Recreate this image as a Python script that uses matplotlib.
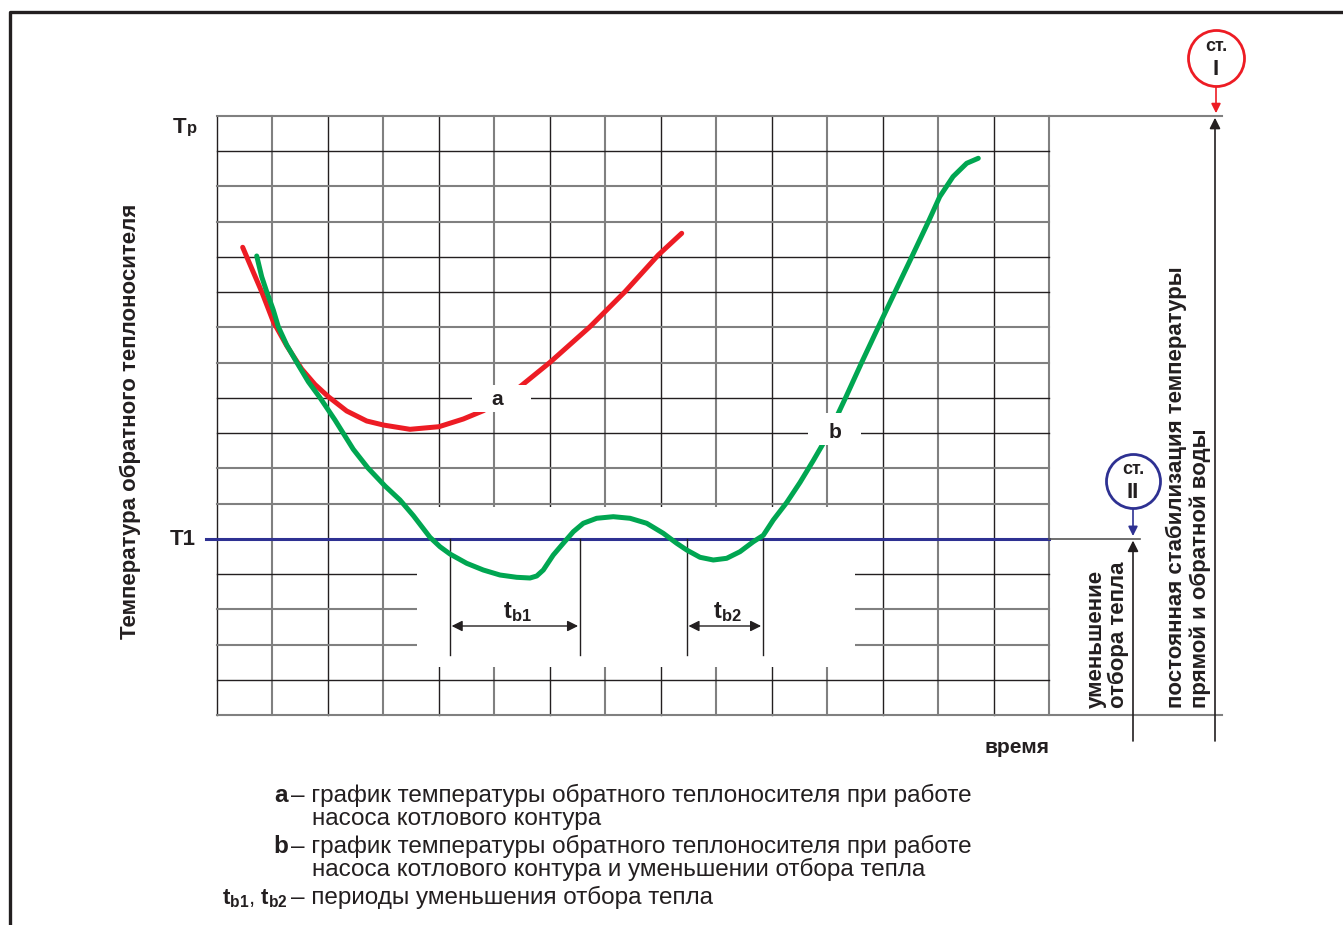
import matplotlib
matplotlib.use("Agg")
import matplotlib.pyplot as plt
from matplotlib.patches import Rectangle

plt.rcParams["font.family"] = ["Liberation Sans", "DejaVu Sans"]
plt.rcParams["mathtext.fontset"] = "custom"
plt.rcParams["mathtext.bf"] = "Liberation Sans:bold"
plt.rcParams["mathtext.rm"] = "Liberation Sans"

# grid: 15 columns (time), 17 rows (temperature), T1 at row 5, Tp at row 17
n_cols = 15
n_rows = 17
T1 = 5
Tp = 17

# curve a: return temperature, boiler pump only
x_a = [0.463, 0.564, 0.806, 1.015, 1.257, 1.527, 1.767, 2.007, 2.338, 2.699,
       2.998, 3.479, 4.002, 4.441, 4.801, 5.162, 5.463, 6.004, 6.725, 7.356,
       7.956, 8.378]
y_a = [13.274, 12.900, 12.013, 11.162, 10.480, 9.820, 9.380, 9.034, 8.628,
       8.344, 8.230, 8.108, 8.182, 8.401, 8.636, 8.988, 9.317, 10.010, 11.020,
       12.014, 13.055, 13.671]

# curve b: return temperature with reduced heat draw
x_b = [0.716, 0.806, 0.896, 1.015, 1.105, 1.257, 1.437, 1.646, 1.857, 2.127,
       2.457, 2.722, 3.029, 3.299, 3.539, 3.840, 4.020, 4.200, 4.502, 4.801,
       5.102, 5.403, 5.643, 5.764, 5.883, 6.063, 6.243, 6.424, 6.604, 6.845,
       7.145, 7.446, 7.747, 8.046, 8.288, 8.468, 8.708, 8.948, 9.189, 9.429,
       9.669, 9.849, 10.029, 10.271, 10.511, 10.750, 10.931, 11.066, 11.201,
       11.340, 11.630, 11.940, 12.240, 12.540, 12.840, 13.030, 13.270, 13.516,
       13.725]
y_b = [13.027, 12.439, 12.013, 11.494, 11.020, 10.501, 10.010, 9.459, 9.005,
       8.372, 7.541, 7.010, 6.499, 6.102, 5.660, 5.043, 4.776, 4.569, 4.305,
       4.115, 3.973, 3.908, 3.888, 3.945, 4.115, 4.541, 4.873, 5.202, 5.441,
       5.583, 5.628, 5.583, 5.441, 5.157, 4.873, 4.683, 4.476, 4.399, 4.447,
       4.635, 4.918, 5.100, 5.534, 6.030, 6.600, 7.220, 7.711, 8.137, 8.563,
       9.030, 10.030, 11.070, 12.060, 13.050, 14.050, 14.710, 15.280, 15.658,
       15.800]

# periods of reduced heat draw (start, end) in grid units
tb_periods = [(4.20, 6.54), (8.47, 9.84)]
tb_labels = [r"$\mathbf{t_{b1}}$", r"$\mathbf{t_{b2}}$"]

RED = "#ed1c24"
GREEN = "#00a651"
BLUE = "#2e3192"
DARK = "#231f20"
GREY = "#808080"

# pixel geometry of the grid inside the 1343x925 picture
W, H = 1343, 925
GX0, GY0 = 217, 715
CW = (1049 - 217) / n_cols
CH = (715 - 116) / n_rows


def P(x, y):
    """pixel position -> grid units"""
    return (x - GX0) / CW, (GY0 - y) / CH


fig = plt.figure(figsize=(W / 100, H / 100), dpi=100)
ax = fig.add_axes([0, 0, 1, 1])
ax.set_xlim(P(0, 0)[0], P(W, 0)[0])
ax.set_ylim(P(0, H)[1], P(0, 0)[1])
ax.axis("off")

# frame
fx0, fy0 = P(10, 12)
fx1, fy1 = P(W, H)
ax.plot([fx0, fx0, fx1], [fy1, fy0, fy0], color=DARK, lw=2.4,
        solid_capstyle="butt", zorder=1)

# grid
for i in range(n_cols + 1):
    c, lw = (DARK, 1.0) if i % 2 == 0 else (GREY, 1.5)
    ax.plot([i, i], [0, n_rows], color=c, lw=lw, zorder=1)
x_ext = P(1222, 0)[0]
for j in range(n_rows + 1):
    c, lw = (DARK, 1.0) if (j // 2) % 2 == 0 else (GREY, 1.5)
    x_end = n_cols
    if j in (0, n_rows):
        c, lw, x_end = GREY, 1.5, x_ext
    ax.plot([0, x_end], [j, j], color=c, lw=lw, zorder=1)

# blank area under T1 where the periods are marked
mx0, my0 = P(417, 667)
mx1, my1 = P(855, 507)
ax.add_patch(Rectangle((mx0, my0), mx1 - mx0, my1 - my0, facecolor="white",
                       edgecolor="none", zorder=2))

# T1 line
ax.plot([P(206, 0)[0], n_cols], [T1, T1], color=BLUE, lw=2.2, zorder=3)
ax.plot([n_cols, P(1140, 0)[0]], [T1, T1], color="#555555", lw=1.2, zorder=3)

# period markers
y_low = P(0, 655)[1]
y_arr = P(0, 626)[1]
y_lab = P(0, 618)[1]
for (t0, t1), lab in zip(tb_periods, tb_labels):
    for t in (t0, t1):
        ax.plot([t, t], [y_low, T1], color=DARK, lw=1.0, zorder=3)
    ax.annotate("", xy=(t0 + 0.03, y_arr), xytext=(t1 - 0.03, y_arr),
                arrowprops=dict(arrowstyle="<|-|>", color=DARK, lw=1.0,
                                mutation_scale=16, shrinkA=0, shrinkB=0),
                zorder=3)
    ax.text((t0 + t1) / 2 + 0.05, y_lab, lab, fontsize=17, ha="center",
            va="baseline", color=DARK, zorder=3)

# curves
ax.plot(x_a, y_a, color=RED, lw=3.6, solid_capstyle="round",
        solid_joinstyle="round", zorder=4)
ax.plot(x_b, y_b, color=GREEN, lw=3.6, solid_capstyle="round",
        solid_joinstyle="round", zorder=4)

# curve labels on white patches
for (x0, y0, x1, y1), lab, (tx, ty) in [
        ((472, 412, 531, 385), "a", (497, 405)),
        ((808, 445, 861, 413), "b", (835, 438))]:
    a0, b0 = P(x0, y0)
    a1, b1 = P(x1, y1)
    ax.add_patch(Rectangle((a0, b0), a1 - a0, b1 - b0, facecolor="white",
                           edgecolor="none", zorder=5))
    ax.text(*P(tx, ty), lab, fontsize=15, fontweight="bold", ha="center",
            va="baseline", color=DARK, zorder=6)

# level labels
ax.text(*P(173, 133), "T", fontsize=16, fontweight="bold", ha="left",
        va="baseline", color=DARK)
ax.text(*P(187, 133), "р", fontsize=12, fontweight="bold", ha="left",
        va="baseline", color=DARK)
ax.text(*P(196, 545), "T1", fontsize=16, fontweight="bold", ha="right",
        va="baseline", color=DARK)

ax.text(*P(130, 421), "Температура обратного теплоносителя", fontsize=16,
        fontweight="bold", rotation=90, ha="center", va="center", color=DARK)
ax.text(*P(1050, 753), "время", fontsize=15, fontweight="bold", ha="right",
        va="baseline", color=DARK)

# stage markers on the right
x2 = P(1133, 0)[0]
x1s = P(1215, 0)[0]
y_base = P(0, 741)[1]
ax.annotate("", xy=(x2, T1 - 0.05), xytext=(x2, y_base),
            arrowprops=dict(arrowstyle="-|>", color=DARK, lw=1.2,
                            mutation_scale=16, shrinkA=0, shrinkB=0))
ax.annotate("", xy=(x1s, Tp - 0.05), xytext=(x1s, y_base),
            arrowprops=dict(arrowstyle="-|>", color=DARK, lw=1.2,
                            mutation_scale=16, shrinkA=0, shrinkB=0))

for (cx, cy, r), col, roman, y_top in [((1216, 58, 28), RED, "I", Tp),
                                        ((1133, 481, 27), BLUE, "II", T1)]:
    ax.annotate("", xy=(P(cx, 0)[0], y_top + 0.08), xytext=P(cx, cy + r),
                arrowprops=dict(arrowstyle="-|>", color=col, lw=1.2,
                                mutation_scale=14, shrinkA=0, shrinkB=0),
                zorder=3)
    ax.plot(*P(cx, cy), marker="o", markersize=2 * r * 0.72, mfc="white",
            mec=col, mew=2.0, zorder=5)
    ax.text(*P(cx, cy - 7), "ст.", fontsize=13, fontweight="bold",
            ha="center", va="baseline", color=DARK, zorder=6)
    ax.text(*P(cx, cy + 17), roman, fontsize=16, fontweight="bold",
            ha="center", va="baseline", color=DARK, zorder=6)

ax.text(*P(1107, 708), "уменьшение\nотбора тепла", fontsize=16,
        fontweight="bold", rotation=90, ha="center", va="bottom",
        multialignment="left", linespacing=1.05, color=DARK)
ax.text(*P(1188, 708), "постоянная стабилизация температуры\nпрямой и обратной воды",
        fontsize=16, fontweight="bold", rotation=90, ha="center", va="bottom",
        multialignment="left", linespacing=1.15, color=DARK)

# caption
cap = dict(fontsize=17.5, va="baseline", color=DARK)
ax.text(*P(274, 802), "a", fontweight="bold", **cap)
ax.text(*P(291, 802), "– график температуры обратного теплоносителя при работе", **cap)
ax.text(*P(312, 825), "насоса котлового контура", **cap)
ax.text(*P(273, 853), "b", fontweight="bold", **cap)
ax.text(*P(291, 853), "– график температуры обратного теплоносителя при работе", **cap)
ax.text(*P(312, 876), "насоса котлового контура и уменьшении отбора тепла", **cap)
ax.text(*P(222, 904), r"$\mathbf{t_{b1}}$, $\mathbf{t_{b2}}$", fontsize=16,
        va="baseline", color=DARK)
ax.text(*P(291, 904), "– периоды уменьшения отбора тепла", **cap)

fig.savefig("out.png", dpi=100)
